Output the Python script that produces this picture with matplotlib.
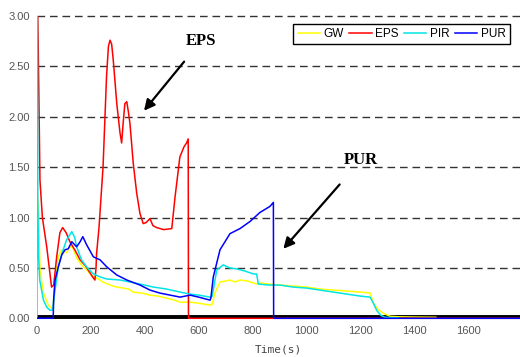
import matplotlib
matplotlib.use("Agg")
import matplotlib.pyplot as plt

# ---- data ----
gw_t = [0, 2, 5, 11, 24, 42, 55, 60, 67, 79, 92, 110, 120, 130, 147, 165, 184, 200, 221, 245,
        271, 295, 320, 340, 357, 390, 419, 450, 481, 510, 531, 568, 600, 642, 650, 660, 679, 700,
        716, 735, 753, 780, 815, 830, 860, 901, 950, 1000, 1050, 1100, 1150, 1200, 1236, 1248,
        1265, 1285, 1310, 1340, 1400, 1480]
gw_v = [1.2, 1.2, 1.1, 0.48, 0.25, 0.13, 0.10, 0.12, 0.38, 0.61, 0.68, 0.65, 0.70, 0.72, 0.60, 0.53,
        0.48, 0.43, 0.40, 0.36, 0.33, 0.31, 0.30, 0.29, 0.26, 0.25, 0.23, 0.22, 0.20, 0.18, 0.16,
        0.16, 0.15, 0.13, 0.14, 0.25, 0.36, 0.37, 0.38, 0.36, 0.38, 0.37, 0.34, 0.35, 0.34, 0.33,
        0.32, 0.31, 0.29, 0.28, 0.27, 0.26, 0.25, 0.15, 0.09, 0.05, 0.02, 0.015, 0.012, 0.01]

eps_t = [0, 3, 6, 11, 20, 36, 54, 62, 73, 85, 95, 108, 122, 140, 160, 180, 197, 209, 215, 219, 221,
         230, 245, 258, 265, 271, 277, 283, 296, 308, 314, 320, 326, 333, 339, 345, 357, 370, 382,
         394, 405, 419, 430, 444, 470, 500, 512, 530, 545, 555, 561, 562, 1792]
eps_v = [3.3, 3.0, 2.4, 1.37, 1.0, 0.71, 0.31, 0.33, 0.61, 0.85, 0.90, 0.85, 0.76, 0.68, 0.58, 0.52,
         0.45, 0.40, 0.38, 0.50, 0.64, 0.90, 1.5, 2.4, 2.7, 2.76, 2.72, 2.56, 2.13, 1.84, 1.74, 1.95,
         2.13, 2.15, 2.05, 1.93, 1.54, 1.24, 1.04, 0.94, 0.95, 0.99, 0.92, 0.90, 0.88, 0.89, 1.2,
         1.6, 1.70, 1.74, 1.78, 0.0, 0.0]

pir_t = [0, 1, 3, 6, 10, 24, 36, 48, 57, 67, 79, 92, 110, 120, 129, 140, 147, 165, 184, 209, 235,
         259, 308, 345, 382, 432, 481, 531, 568, 600, 642, 650, 667, 691, 715, 741, 770, 803, 815,
         821, 860, 901, 950, 1000, 1050, 1100, 1150, 1200, 1236, 1248, 1260, 1275, 1291, 1340]
pir_v = [0.0, 3.5, 1.2, 0.6, 0.38, 0.18, 0.11, 0.08, 0.08, 0.28, 0.51, 0.64, 0.78, 0.82, 0.86, 0.80,
         0.71, 0.58, 0.51, 0.44, 0.41, 0.39, 0.38, 0.36, 0.34, 0.31, 0.29, 0.26, 0.24, 0.23, 0.21,
         0.22, 0.48, 0.53, 0.50, 0.49, 0.47, 0.44, 0.44, 0.34, 0.33, 0.33, 0.31, 0.30, 0.28, 0.26,
         0.24, 0.22, 0.21, 0.15, 0.08, 0.03, 0.01, 0.005]

pur_t = [0, 60, 62, 67, 79, 92, 104, 116, 129, 147, 160, 170, 184, 209, 234, 259, 296, 333, 382,
         419, 456, 494, 531, 568, 600, 642, 645, 654, 679, 716, 753, 790, 827, 864, 877, 878, 1792]
pur_v = [0.0, 0.0, 0.2, 0.38, 0.51, 0.63, 0.68, 0.69, 0.76, 0.71, 0.76, 0.81, 0.73, 0.61, 0.58,
         0.51, 0.43, 0.38, 0.33, 0.28, 0.25, 0.23, 0.21, 0.23, 0.21, 0.18, 0.20, 0.41, 0.68, 0.84,
         0.89, 0.96, 1.05, 1.11, 1.15, 0.0, 0.0]

series_names = ["GW", "EPS", "PIR", "PUR"]
series_colors = ["#ffff00", "#ff0000", "#00e5e5", "#0000ff"]

x_ticks = [0, 200, 400, 600, 800, 1000, 1200, 1400, 1600]
y_ticks = [0.0, 0.5, 1.0, 1.5, 2.0, 2.5, 3.0]

# ---- figure ----
W, H = 520, 357
fig = plt.figure(figsize=(W / 100, H / 100), dpi=100)
left_px, right_px, top_px, bot_px = 37, 520, 16, 319.5
ax = fig.add_axes([left_px / W, 1 - bot_px / H, (right_px - left_px) / W, (bot_px - top_px) / H])

ax.set_xlim(0, 1792)
ax.set_ylim(-0.012, 3.0)

for yv in y_ticks[1:]:
    ax.axhline(yv, color="#333333", lw=1.0, dashes=(5.5, 3.5), zorder=1, clip_on=False)
ax.axhline(0.008, color="black", lw=2.8, zorder=1.5)

data = [(gw_t, gw_v), (eps_t, eps_v), (pir_t, pir_v), (pur_t, pur_v)]
for (t, v), name, c in zip(data, series_names, series_colors):
    ax.plot(t, v, color=c, lw=1.1, label=name, zorder=2)

for s in ax.spines.values():
    s.set_visible(False)

ax.set_xticks(x_ticks)
ax.set_xticklabels([str(x) for x in x_ticks])
ax.set_yticks(y_ticks)
ax.set_yticklabels([f"{y:.2f}" for y in y_ticks])
ax.tick_params(length=0, labelsize=8, colors="#555555", pad=5)
for lab in ax.get_xticklabels() + ax.get_yticklabels():
    lab.set_family("Liberation Sans")
ax.set_xlabel("Time(s)", family="DejaVu Sans Mono", fontsize=8, color="#444444", labelpad=6)

leg = ax.legend(loc="upper right", bbox_to_anchor=(0.979, 0.974), ncol=4, frameon=True,
                fancybox=False, edgecolor="black", framealpha=1, borderaxespad=0,
                handlelength=1.9, columnspacing=0.45, handletextpad=0.3, borderpad=0.35,
                prop={"family": "Liberation Sans", "size": 8.5})
leg.get_frame().set_linewidth(1.0)

ax.annotate("EPS", xy=(397, 2.06), xytext=(608, 2.75), textcoords="data",
            fontsize=12, fontweight="bold", family="Liberation Serif", ha="center", va="center",
            arrowprops=dict(arrowstyle="-|>", color="black", lw=1.6, mutation_scale=16,
                            shrinkA=9, shrinkB=0))
ax.annotate("PUR", xy=(914, 0.69), xytext=(1202, 1.57), textcoords="data",
            fontsize=12, fontweight="bold", family="Liberation Serif", ha="center", va="center",
            arrowprops=dict(arrowstyle="-|>", color="black", lw=1.6, mutation_scale=16,
                            shrinkA=13, shrinkB=0))

fig.savefig("out.png", dpi=100)
